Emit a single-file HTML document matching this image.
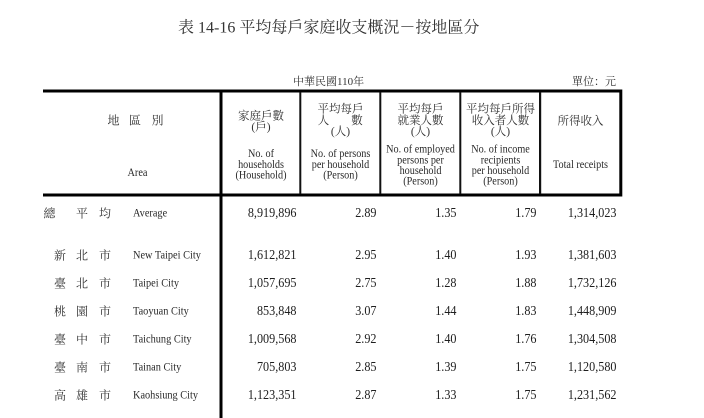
<!DOCTYPE html>
<html>
<head>
<meta charset="utf-8">
<style>
html,body{margin:0;padding:0;background:#fff;}
svg{display:block;}
.cjk{font-family:"Liberation Serif","Noto Serif CJK SC","Noto Sans CJK TC",serif;fill:#333;}
.en{font-family:"Liberation Serif",serif;fill:#2a2a2a;}
.num{font-family:"Liberation Serif",serif;fill:#1e1e1e;font-size:14px;}
</style>
</head>
<body>
<svg width="704" height="418" viewBox="0 0 704 418" xmlns="http://www.w3.org/2000/svg">
<rect x="0" y="0" width="704" height="418" fill="#fff"/>

<!-- Title -->
<text class="cjk" x="178" y="32.5" font-size="16">表 14-16 平均每戶家庭收支概況－按地區分</text>

<text class="cjk" x="293" y="85" font-size="11">中華民國110年</text>
<text class="cjk" x="616" y="85" font-size="11" text-anchor="end">單位：元</text>

<!-- Lines -->
<rect x="43" y="89.5" width="579" height="3" fill="#000"/>
<rect x="43" y="193.5" width="579" height="3" fill="#000"/>
<rect x="219.5" y="89.5" width="3" height="328.5" fill="#000"/>
<rect x="299.3" y="92" width="2" height="102" fill="#111"/>
<rect x="379.3" y="92" width="2" height="102" fill="#111"/>
<rect x="459.3" y="92" width="2" height="102" fill="#111"/>
<rect x="539" y="92" width="2.2" height="102" fill="#111"/>
<rect x="619.3" y="89.5" width="3" height="107" fill="#000"/>

<!-- Header col 0 -->
<text class="cjk" font-size="12" x="113.5" y="124.5" text-anchor="middle">地</text>
<text class="cjk" font-size="12" x="135" y="124.5" text-anchor="middle">區</text>
<text class="cjk" font-size="12" x="157.5" y="124.5" text-anchor="middle">別</text>
<text class="en" font-size="12" text-anchor="middle" transform="translate(137.5,176) scale(0.86,1)">Area</text>

<!-- Header col 1 -->
<text class="cjk" font-size="11.5" x="261" y="119.5" text-anchor="middle">家庭戶數</text>
<text class="cjk" font-size="11.5" x="261" y="130.5" text-anchor="middle">(戶)</text>
<text class="en" font-size="12" text-anchor="middle" transform="translate(261,157) scale(0.85,1)">No. of</text>
<text class="en" font-size="12" text-anchor="middle" transform="translate(261,168) scale(0.85,1)">households</text>
<text class="en" font-size="12" text-anchor="middle" transform="translate(261,178.5) scale(0.85,1)">(Household)</text>

<!-- Header col 2 -->
<text class="cjk" font-size="11.5" x="340.5" y="112.5" text-anchor="middle">平均每戶</text>
<text class="cjk" font-size="11.5" x="323.5" y="124" text-anchor="middle">人</text>
<text class="cjk" font-size="11.5" x="357" y="124" text-anchor="middle">數</text>
<text class="cjk" font-size="11.5" x="340.5" y="135" text-anchor="middle">(人)</text>
<text class="en" font-size="12" text-anchor="middle" transform="translate(340.5,157) scale(0.85,1)">No. of persons</text>
<text class="en" font-size="12" text-anchor="middle" transform="translate(340.5,168) scale(0.85,1)">per household</text>
<text class="en" font-size="12" text-anchor="middle" transform="translate(340.5,178.5) scale(0.85,1)">(Person)</text>

<!-- Header col 3 -->
<text class="cjk" font-size="11.5" x="420.5" y="112.5" text-anchor="middle">平均每戶</text>
<text class="cjk" font-size="11.5" x="420.5" y="124" text-anchor="middle">就業人數</text>
<text class="cjk" font-size="11.5" x="420.5" y="135" text-anchor="middle">(人)</text>
<text class="en" font-size="12" text-anchor="middle" transform="translate(420.5,152.5) scale(0.85,1)">No. of employed</text>
<text class="en" font-size="12" text-anchor="middle" transform="translate(420.5,163.5) scale(0.85,1)">persons per</text>
<text class="en" font-size="12" text-anchor="middle" transform="translate(420.5,174) scale(0.85,1)">household</text>
<text class="en" font-size="12" text-anchor="middle" transform="translate(420.5,184.5) scale(0.85,1)">(Person)</text>

<!-- Header col 4 -->
<text class="cjk" font-size="11.5" x="500.5" y="112.5" text-anchor="middle">平均每戶所得</text>
<text class="cjk" font-size="11.5" x="500.5" y="124" text-anchor="middle">收入者人數</text>
<text class="cjk" font-size="11.5" x="500.5" y="135" text-anchor="middle">(人)</text>
<text class="en" font-size="12" text-anchor="middle" transform="translate(500.5,152.5) scale(0.85,1)">No. of income</text>
<text class="en" font-size="12" text-anchor="middle" transform="translate(500.5,163.5) scale(0.85,1)">recipients</text>
<text class="en" font-size="12" text-anchor="middle" transform="translate(500.5,174) scale(0.85,1)">per household</text>
<text class="en" font-size="12" text-anchor="middle" transform="translate(500.5,184.5) scale(0.85,1)">(Person)</text>

<!-- Header col 5 -->
<text class="cjk" font-size="11.5" x="580.5" y="124.5" text-anchor="middle">所得收入</text>
<text class="en" font-size="12" text-anchor="middle" transform="translate(580.5,168) scale(0.85,1)">Total receipts</text>

<!-- Row labels -->
<g class="cjk" font-size="12" text-anchor="middle">
<text x="49.5" y="217.5">總</text><text x="82" y="217.5">平</text><text x="105" y="217.5">均</text>
<text x="60" y="259.5">新</text><text x="82" y="259.5">北</text><text x="105" y="259.5">市</text>
<text x="60" y="287.5">臺</text><text x="82" y="287.5">北</text><text x="105" y="287.5">市</text>
<text x="60" y="315.5">桃</text><text x="82" y="315.5">園</text><text x="105" y="315.5">市</text>
<text x="60" y="343.5">臺</text><text x="82" y="343.5">中</text><text x="105" y="343.5">市</text>
<text x="60" y="371.5">臺</text><text x="82" y="371.5">南</text><text x="105" y="371.5">市</text>
<text x="60" y="399.5">高</text><text x="82" y="399.5">雄</text><text x="105" y="399.5">市</text>
</g>
<g class="en" font-size="12">
<text transform="translate(133,216.5) scale(0.86,1)">Average</text>
<text transform="translate(133,258.5) scale(0.86,1)">New Taipei City</text>
<text transform="translate(133,286.5) scale(0.86,1)">Taipei City</text>
<text transform="translate(133,314.5) scale(0.86,1)">Taoyuan City</text>
<text transform="translate(133,342.5) scale(0.86,1)">Taichung City</text>
<text transform="translate(133,370.5) scale(0.86,1)">Tainan City</text>
<text transform="translate(133,398.5) scale(0.86,1)">Kaohsiung City</text>
</g>

<!-- Numbers -->
<g class="num" text-anchor="end">
<text transform="translate(296.5,217) scale(0.87,1)">8,919,896</text>
<text transform="translate(376.5,217) scale(0.87,1)">2.89</text>
<text transform="translate(456.5,217) scale(0.87,1)">1.35</text>
<text transform="translate(536.5,217) scale(0.87,1)">1.79</text>
<text transform="translate(616.5,217) scale(0.87,1)">1,314,023</text>

<text transform="translate(296.5,259) scale(0.87,1)">1,612,821</text>
<text transform="translate(376.5,259) scale(0.87,1)">2.95</text>
<text transform="translate(456.5,259) scale(0.87,1)">1.40</text>
<text transform="translate(536.5,259) scale(0.87,1)">1.93</text>
<text transform="translate(616.5,259) scale(0.87,1)">1,381,603</text>

<text transform="translate(296.5,287) scale(0.87,1)">1,057,695</text>
<text transform="translate(376.5,287) scale(0.87,1)">2.75</text>
<text transform="translate(456.5,287) scale(0.87,1)">1.28</text>
<text transform="translate(536.5,287) scale(0.87,1)">1.88</text>
<text transform="translate(616.5,287) scale(0.87,1)">1,732,126</text>

<text transform="translate(296.5,315) scale(0.87,1)">853,848</text>
<text transform="translate(376.5,315) scale(0.87,1)">3.07</text>
<text transform="translate(456.5,315) scale(0.87,1)">1.44</text>
<text transform="translate(536.5,315) scale(0.87,1)">1.83</text>
<text transform="translate(616.5,315) scale(0.87,1)">1,448,909</text>

<text transform="translate(296.5,343) scale(0.87,1)">1,009,568</text>
<text transform="translate(376.5,343) scale(0.87,1)">2.92</text>
<text transform="translate(456.5,343) scale(0.87,1)">1.40</text>
<text transform="translate(536.5,343) scale(0.87,1)">1.76</text>
<text transform="translate(616.5,343) scale(0.87,1)">1,304,508</text>

<text transform="translate(296.5,371) scale(0.87,1)">705,803</text>
<text transform="translate(376.5,371) scale(0.87,1)">2.85</text>
<text transform="translate(456.5,371) scale(0.87,1)">1.39</text>
<text transform="translate(536.5,371) scale(0.87,1)">1.75</text>
<text transform="translate(616.5,371) scale(0.87,1)">1,120,580</text>

<text transform="translate(296.5,399) scale(0.87,1)">1,123,351</text>
<text transform="translate(376.5,399) scale(0.87,1)">2.87</text>
<text transform="translate(456.5,399) scale(0.87,1)">1.33</text>
<text transform="translate(536.5,399) scale(0.87,1)">1.75</text>
<text transform="translate(616.5,399) scale(0.87,1)">1,231,562</text>
</g>
</svg>
</body>
</html>
